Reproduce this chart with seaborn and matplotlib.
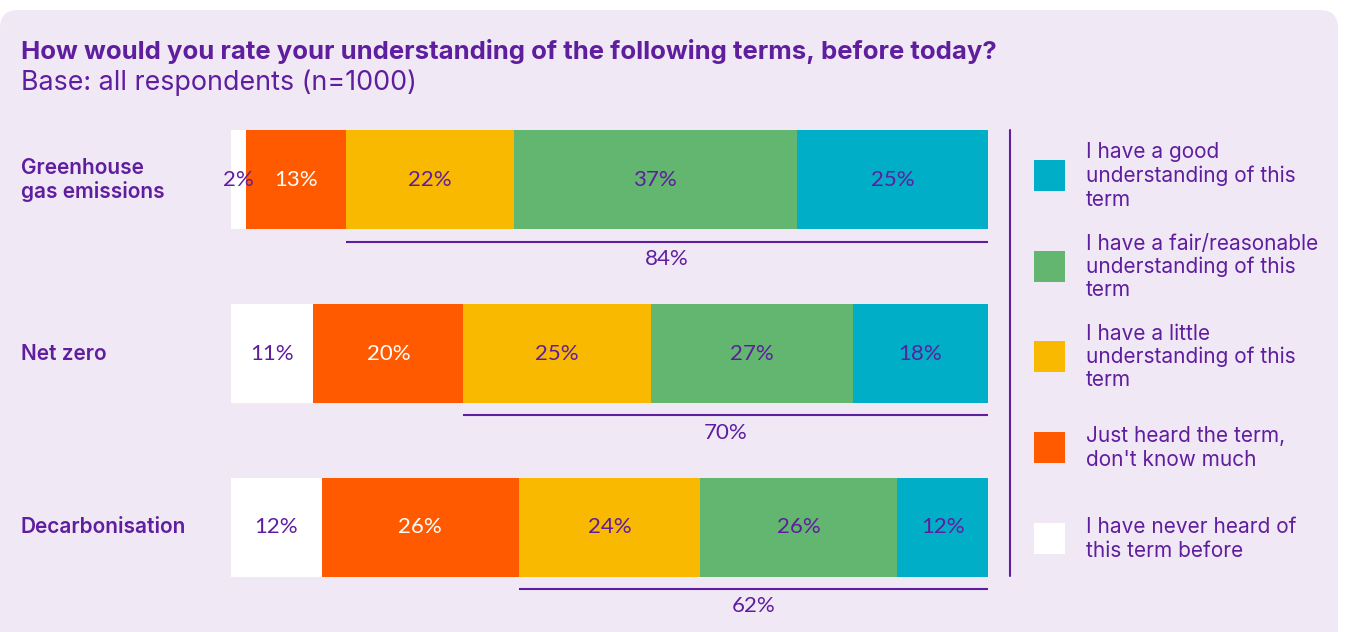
import numpy as np
import pandas as pd
import matplotlib
matplotlib.use("Agg")
import matplotlib.pyplot as plt
from matplotlib.patches import FancyBboxPatch, Rectangle
import seaborn as sns

# Data
terms = ["Greenhouse\ngas emissions", "Net zero", "Decarbonisation"]
never_heard = [2, 11, 12]
just_heard = [13, 20, 26]
a_little = [22, 25, 24]
fair = [37, 27, 26]
good = [25, 18, 12]
net_understand = [84, 70, 62]

series_names = ["I have never heard of\nthis term before",
                "Just heard the term,\ndon't know much",
                "I have a little\nunderstanding of this\nterm",
                "I have a fair/reasonable\nunderstanding of this\nterm",
                "I have a good\nunderstanding of this\nterm"]
series_colors = ["#FFFFFF", "#FF5A00", "#F9B900", "#63B670", "#00AEC7"]
label_colors = ["#5F1E9E", "#FFFFFF", "#5F1E9E", "#5F1E9E", "#5F1E9E"]

purple = "#5F1E9E"
card = "#F1E8F6"

sns.set_style("white")
plt.rcParams["font.family"] = ["Inter", "DejaVu Sans"]

df = pd.DataFrame({"term": terms, "never": never_heard, "just": just_heard,
                   "little": a_little, "fair": fair, "good": good})
cols = ["never", "just", "little", "fair", "good"]
# scale each row to 100 so all bars share the same length
row_tot = df[cols].sum(axis=1)
shares = df[cols].div(row_tot, axis=0) * 100
cum = shares.cumsum(axis=1)
left = cum - shares

fig = plt.figure(figsize=(13.45, 6.32), dpi=100)
fig.patch.set_facecolor("white")

# background card
bg = fig.add_axes([0, 0, 1, 1])
bg.set_xlim(0, 1345)
bg.set_ylim(632, 0)
bg.axis("off")
bg.add_patch(FancyBboxPatch((0, 10), 1338, 660, boxstyle="round,pad=0,rounding_size=18",
                            facecolor=card, edgecolor="none"))
bg.text(21, 52, "How would you rate your understanding of the following terms, before today?",
        fontsize=18.5, fontweight="bold", color=purple, va="center", ha="left")
bg.text(21, 83, "Base: all respondents (n=1000)", fontsize=19.3, color=purple,
        va="center", ha="left")

# main bars
ax = fig.add_axes([231 / 1345, 1 - 614 / 632, (988 - 231) / 1345, (614 - 93) / 632])
ax.patch.set_alpha(0)
for c, col in zip(reversed(series_colors), reversed(cols)):
    sns.barplot(x=cum[col], y=df["term"], orient="h", color=c, width=0.57,
                saturation=1, linewidth=0, ax=ax)
ax.set_xlim(0, 100)
ax.set_ylim(2.5, -0.5)
ax.axis("off")

for i in range(len(terms)):
    for j, col in enumerate(cols):
        xc = left[col][i] + shares[col][i] / 2
        ax.text(xc, i, f"{df[col][i]}%", ha="center", va="center", fontsize=16,
                color=label_colors[j], family=["Lato", "DejaVu Sans"])
    # net understanding bracket
    x0 = left["little"][i]
    ax.plot([x0, 100], [i + 0.357, i + 0.357], color=purple, lw=1.5,
            solid_capstyle="butt")
    ax.text((x0 + 100) / 2, i + 0.455, f"{net_understand[i]}%", ha="center",
            va="center", fontsize=16, color=purple, family=["Lato", "DejaVu Sans"])
    bg.text(21, 180 + i * 173.5, terms[i], fontsize=15, fontweight="semibold",
            color=purple, va="center", ha="left", linespacing=1.2)

# legend
bg.plot([1010, 1010], [130, 576], color=purple, lw=1.5)
leg_y = [175, 266, 356, 447, 538]
for k, j in enumerate(reversed(range(len(cols)))):
    y = leg_y[k]
    bg.add_patch(Rectangle((1034, y - 15.5), 31, 31, facecolor=series_colors[j],
                           edgecolor="none"))
    bg.text(1086, y + 1, series_names[j], fontsize=15, color=purple, va="center",
            ha="left", linespacing=1.2)

fig.savefig("out.png", dpi=100, facecolor=fig.get_facecolor())
